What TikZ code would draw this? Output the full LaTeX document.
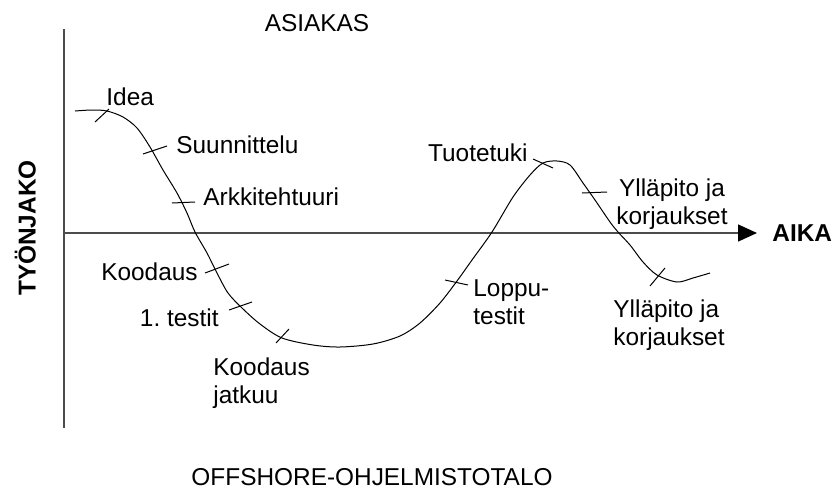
\documentclass[tikz,border=0pt]{standalone}
\usepackage{fontspec}
\setmainfont{Liberation Sans}
\usetikzlibrary{arrows.meta}

\begin{document}
\begin{tikzpicture}[x=0.5pt,y=-0.5pt,
    every node/.style={font=\fontsize{12.2}{14.2}\selectfont, inner sep=0pt},
    lbl/.style={text height=8.7pt, text depth=0pt},
    axis/.style={draw=black!70, line width=0.75pt},
    curve/.style={draw=black, line width=0.5pt}]
  \useasboundingbox (0,0) rectangle (835,493);
  % axes
  \coordinate (top) at (64,29);
  \coordinate (bottom) at (64,428);
  \coordinate (origin) at (64,233);
  \coordinate (tip) at (757,233);
  \draw[axis] (top) -- (bottom);
  \draw[axis, -{Triangle[length=9.5pt,width=8.5pt,color=black]}] (origin) -- (tip);
  \node[lbl, anchor=west, font=\fontsize{12.2}{14.2}\selectfont\bfseries] (aika) at (772,233) {AIKA};
  \node[lbl, rotate=90, font=\fontsize{12.2}{14.2}\selectfont\bfseries] (tyonjako) at (27,228) {TYÖNJAKO};
  \node[lbl] (asiakas) at (317,23) {ASIAKAS};
  \node[lbl] (offshore) at (372,477) {OFFSHORE-OHJELMISTOTALO};
  % the curve
  \draw[curve] plot[smooth, tension=0.5] coordinates {(75,111) (92,110) (107,111)
    (123,117) (137,128) (150,147) (163,170) (177,193) (187,213) (195,232) (207,253)
    (217,273) (228,293) (242,308) (260,324) (282,338) (313,345) (340,347) (373,344)
    (400,336) (420,323) (440,303) (457,281) (472,260) (492,232) (513,197) (530,175)
    (543,163) (557,161) (570,165) (583,183) (595,200) (610,222) (618,232) (630,245)
    (643,262) (657,275) (677,282) (693,278) (710,273)};
  % ticks on the curve
  \foreach \xa/\ya/\xb/\yb in {95/122/109/109, 143/154/167/146, 172/203/195/202,
      205/273/229/264, 229/310/252/302, 276/343/289/329,
      445/280/468/285, 533/159/553/168, 582/193/607/192,
      650/286/665/268}
    \draw[curve] (\xa,\ya) -- (\xb,\yb);
  % phases
  \node[lbl, anchor=west] (idea) at (106,97) {Idea};
  \node[lbl, anchor=west] (suunnittelu) at (176,145) {Suunnittelu};
  \node[lbl, anchor=west] (arkkitehtuuri) at (203,197) {Arkkitehtuuri};
  \node[lbl, anchor=east] (koodaus) at (198,272) {Koodaus};
  \node[lbl, anchor=east] (testit) at (219,318) {1.\ testit};
  \node[anchor=north west, align=left] (jatkuu) at (213,357) {Koodaus\\jatkuu};
  \node[anchor=north west, align=left] (loppu) at (473,279) {Loppu-\\testit};
  \node[lbl, anchor=east] (tuotetuki) at (528,153) {Tuotetuki};
  \node[anchor=north, align=center] (yllapito) at (672,178) {Ylläpito ja\\korjaukset};
  \node[anchor=north west, align=left] (korjaukset) at (613,299) {Ylläpito ja\\korjaukset};
\end{tikzpicture}
\end{document}
